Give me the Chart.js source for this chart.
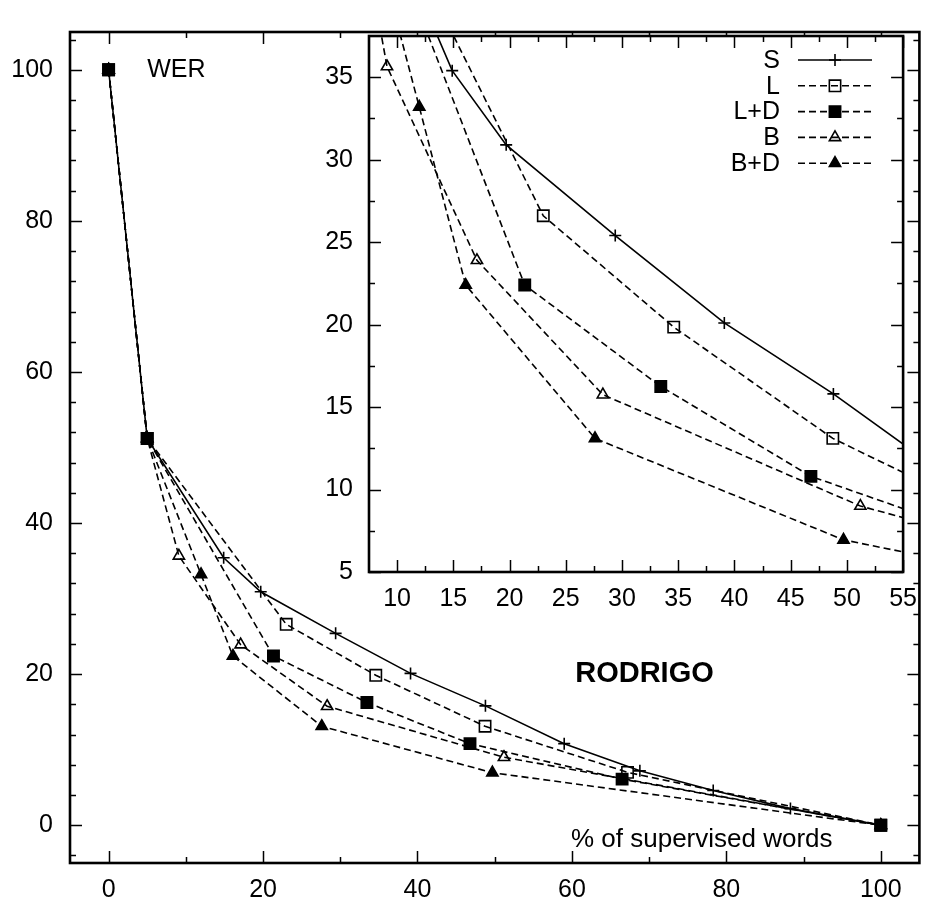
<!DOCTYPE html>
<html><head><meta charset="utf-8">
<script src="https://cdn.jsdelivr.net/npm/chart.js@4/dist/chart.umd.min.js"></script>
<style>
html,body{margin:0;padding:0;background:#fff;}
#wrap{position:relative;width:929px;height:907px;overflow:hidden;}
#main{position:absolute;left:0;top:0;}
#inset{position:absolute;left:320px;top:0;}
</style></head><body>
<div id="wrap"><canvas id="main" width="929" height="907"></canvas><canvas id="inset" width="609" height="620"></canvas></div>
<script>
// ---- data ----
const seriesNames = ['S', 'L', 'L+D', 'B', 'B+D'];
const sX  = [0, 5, 14.9, 19.7, 29.4, 39.1, 48.8, 59.0, 68.8, 78.3, 88.3, 100];
const sY  = [100, 51.2, 35.4, 30.9, 25.4, 20.1, 15.8, 10.8, 7.2, 4.6, 2.2, 0];
const lX  = [0, 5, 23.0, 34.6, 48.75, 67.2, 100];
const lY  = [100, 51.2, 26.6, 19.85, 13.1, 7.0, 0];
const ldX = [0, 5, 21.35, 33.45, 46.8, 66.5, 100];
const ldY = [100, 51.2, 22.4, 16.25, 10.8, 6.1, 0];
const bX  = [0, 5, 9.1, 17.1, 28.3, 51.2, 100];
const bY  = [100, 51.2, 35.65, 23.9, 15.75, 9.0, 0];
const bdX = [0, 5, 11.97, 16.1, 27.6, 49.7, 100];
const bdY = [100, 51.2, 33.2, 22.4, 13.1, 6.95, 0];

const mainXTicks = [0, 20, 40, 60, 80, 100];
const mainYTicks = [0, 20, 40, 60, 80, 100];
const mainXMinor = [10, 30, 50, 70, 90];
const mainYMinor = [-4, 4, 8, 12, 16, 24, 28, 32, 36, 44, 48, 52, 56, 64, 68, 72, 76, 84, 88, 92, 96, 104];
const insetXTicks = [10, 15, 20, 25, 30, 35, 40, 45, 50, 55];
const insetYTicks = [5, 10, 15, 20, 25, 30, 35];
const insetXMinor = [12.5, 17.5, 22.5, 27.5, 32.5, 37.5, 42.5, 47.5, 52.5];
const insetYMinor = [7.5, 12.5, 17.5, 22.5, 27.5, 32.5];

const yLabelText = 'WER';
const titleText = 'RODRIGO';
const xLabelText = '% of supervised words';

// ---- styling ----
const FONT = "'Liberation Sans', Arial, Helvetica, sans-serif";
Chart.defaults.font.family = FONT;
Chart.defaults.font.size = 25;
Chart.defaults.color = '#000';

const zip = (xs, ys) => xs.map((x, i) => ({x: x, y: ys[i]}));
const styles = [
  {dash: [], ps: 'cross', r: 6, fill: 'rgba(0,0,0,0)'},
  {dash: [7, 4], ps: 'rect', r: 8, fill: 'rgba(0,0,0,0)'},
  {dash: [7, 4], ps: 'rect', r: 8, fill: '#000'},
  {dash: [7, 4], ps: 'triangle', r: 6.5, fill: 'rgba(0,0,0,0)'},
  {dash: [7, 4], ps: 'triangle', r: 6.5, fill: '#000'}
];
const seriesData = [[sX, sY], [lX, lY], [ldX, ldY], [bX, bY], [bdX, bdY]];
function makeDatasets() {
  return seriesNames.map((n, i) => ({
    label: n,
    data: zip(seriesData[i][0], seriesData[i][1]),
    showLine: true,
    tension: 0,
    borderColor: '#000',
    borderWidth: 1.6,
    borderDash: styles[i].dash,
    pointStyle: styles[i].ps,
    pointRadius: styles[i].r,
    pointBorderWidth: 1.6,
    pointBorderColor: '#000',
    pointBackgroundColor: styles[i].fill,
    backgroundColor: styles[i].fill
  }));
}

function ticksPlugin(xMaj, xMin, yMaj, yMin, frameW) {
  return {
    id: 'frameTicks',
    beforeDraw(chart) {
      if (!chart.$fillWhite) return;
      const a = chart.chartArea, ctx = chart.ctx;
      ctx.save(); ctx.fillStyle = '#fff';
      ctx.fillRect(a.left, a.top, a.width, a.height);
      ctx.restore();
    },
    afterDraw(chart) {
      const {ctx, chartArea: a, scales: {x, y}} = chart;
      ctx.save();
      ctx.strokeStyle = '#000';
      ctx.lineWidth = 1.5;
      ctx.setLineDash([]);
      const vx = (vals, len) => vals.forEach(v => {
        const px = Math.round(x.getPixelForValue(v)) + 0.5;
        ctx.beginPath();
        ctx.moveTo(px, a.bottom); ctx.lineTo(px, a.bottom - len);
        ctx.moveTo(px, a.top); ctx.lineTo(px, a.top + len);
        ctx.stroke();
      });
      const vy = (vals, len) => vals.forEach(v => {
        const py = Math.round(y.getPixelForValue(v)) + 0.5;
        ctx.beginPath();
        ctx.moveTo(a.left, py); ctx.lineTo(a.left + len, py);
        ctx.moveTo(a.right, py); ctx.lineTo(a.right - len, py);
        ctx.stroke();
      });
      vx(xMaj, 12); vx(xMin, 6); vy(yMaj, 12); vy(yMin, 6);
      ctx.lineWidth = frameW;
      ctx.strokeRect(a.left, a.top, a.width, a.height);
      ctx.restore();
    }
  };
}

const mainLabels = {
  id: 'mainLabels',
  afterDraw(chart) {
    const {ctx, scales: {x, y}} = chart;
    ctx.save();
    ctx.fillStyle = '#000';
    ctx.textBaseline = 'middle';
    ctx.font = '25px ' + FONT;
    ctx.textAlign = 'left';
    ctx.fillText(yLabelText, x.getPixelForValue(5), y.getPixelForValue(100));
    ctx.textAlign = 'right';
    ctx.font = '26px ' + FONT;
    ctx.fillText(xLabelText, x.getPixelForValue(93.75), y.getPixelForValue(-1.9));
    ctx.textAlign = 'center';
    ctx.font = 'bold 29px ' + FONT;
    ctx.fillText(titleText, x.getPixelForValue(69.4), y.getPixelForValue(20));
    ctx.restore();
  }
};

function drawMarker(ctx, st, cx, cy) {
  ctx.save();
  ctx.setLineDash([]);
  ctx.lineWidth = 1.6;
  ctx.strokeStyle = '#000';
  ctx.fillStyle = st.fill;
  ctx.beginPath();
  const r = st.r;
  if (st.ps === 'cross') {
    ctx.moveTo(cx - r, cy); ctx.lineTo(cx + r, cy);
    ctx.moveTo(cx, cy - r); ctx.lineTo(cx, cy + r);
    ctx.stroke();
  } else if (st.ps === 'rect') {
    const h = r * Math.SQRT1_2;
    ctx.rect(cx - h, cy - h, 2 * h, 2 * h);
    ctx.fill(); ctx.stroke();
  } else {
    ctx.moveTo(cx, cy - r);
    ctx.lineTo(cx + r * 0.866, cy + r / 2);
    ctx.lineTo(cx - r * 0.866, cy + r / 2);
    ctx.closePath();
    ctx.fill(); ctx.stroke();
  }
  ctx.restore();
}

const insetLegend = {
  id: 'insetLegend',
  afterDraw(chart) {
    const ctx = chart.ctx;
    const textRight = 460, x0 = 478, x1 = 552, mx = 515;
    ctx.save();
    ctx.font = '25px ' + FONT;
    ctx.fillStyle = '#000';
    ctx.textAlign = 'right';
    ctx.textBaseline = 'middle';
    chart.data.datasets.forEach((ds, i) => {
      const yy = 60 + 25.8 * i;
      ctx.fillText(ds.label, textRight, yy + 1);
      ctx.setLineDash(styles[i].dash);
      ctx.lineWidth = 1.6;
      ctx.strokeStyle = '#000';
      ctx.beginPath(); ctx.moveTo(x0, yy); ctx.lineTo(x1, yy); ctx.stroke();
      drawMarker(ctx, styles[i], mx, yy);
    });
    ctx.restore();
  }
};

function scaleOpts(min, max, ticks, pad, fitKey, fitVal) {
  return {
    type: 'linear', min: min, max: max,
    grid: {display: false, drawTicks: false},
    border: {display: false},
    ticks: {padding: pad, color: '#000', font: {size: 25}, autoSkip: false, maxRotation: 0},
    afterBuildTicks: s => { s.ticks = ticks.map(v => ({value: v})); },
    afterFit: s => { s[fitKey] = fitVal; }
  };
}

new Chart(document.getElementById('main'), {
  type: 'scatter',
  data: {datasets: makeDatasets()},
  options: {
    responsive: false, animation: false, devicePixelRatio: 1,
    layout: {padding: {top: 7, right: 3, left: 0, bottom: 0}},
    plugins: {legend: {display: false}, tooltip: {enabled: false}},
    scales: {
      x: scaleOpts(-5, 105, mainXTicks, 12, 'height', 44),
      y: scaleOpts(-5, 105, mainYTicks, 17, 'width', 70)
    }
  },
  plugins: [ticksPlugin(mainXTicks, mainXMinor, mainYTicks, mainYMinor, 2.6), mainLabels]
});

new Chart(document.getElementById('inset'), {
  type: 'scatter',
  data: {datasets: makeDatasets()},
  options: {
    responsive: false, animation: false, devicePixelRatio: 1,
    layout: {padding: {top: 36, right: 23, left: 0, bottom: 0}},
    plugins: {legend: {display: false}, tooltip: {enabled: false}},
    scales: {
      x: scaleOpts(7.5, 55, insetXTicks, 12, 'height', 48),
      y: scaleOpts(5, 37.5, insetYTicks, 16, 'width', 49)
    }
  },
  plugins: [{id: 'flag', beforeInit(c) { c.$fillWhite = true; }}, ticksPlugin(insetXTicks, insetXMinor, insetYTicks, insetYMinor, 2.6), insetLegend]
});
</script>
</body></html>
